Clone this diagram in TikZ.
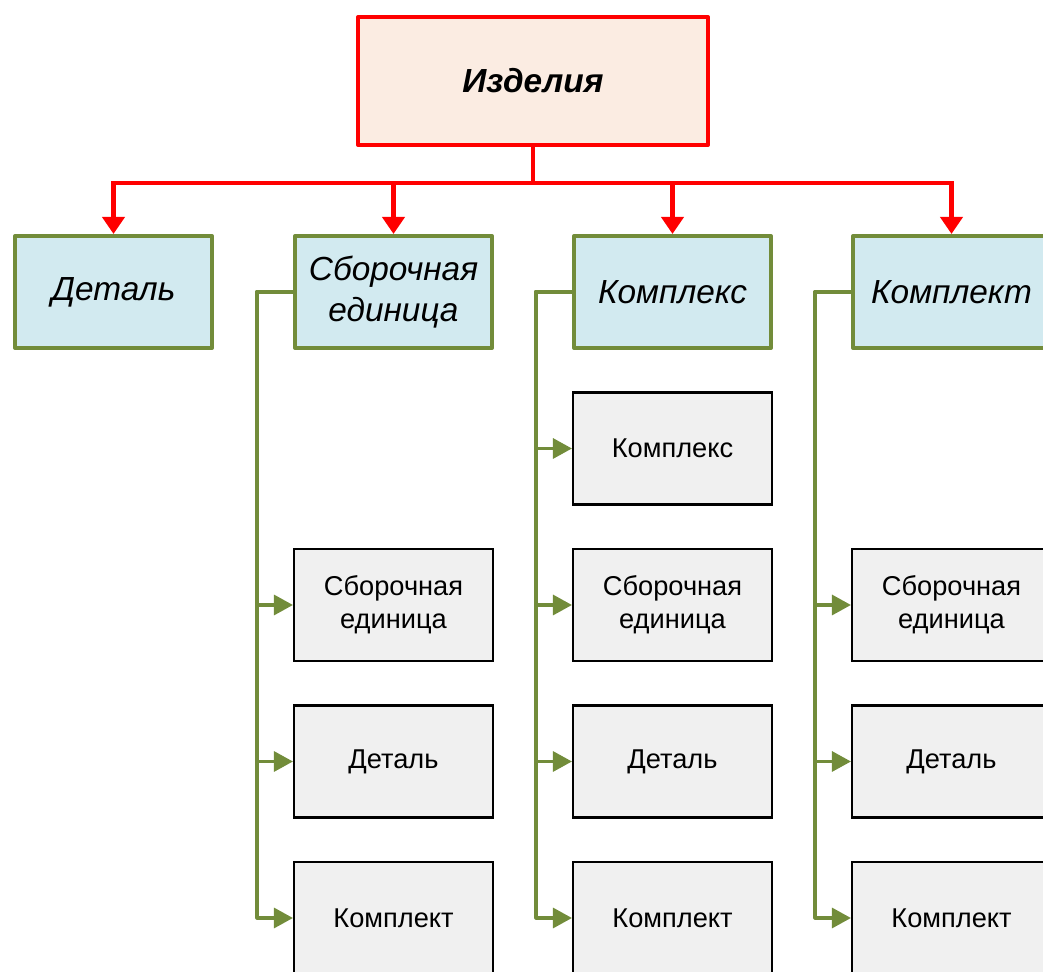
\documentclass[tikz,border=0pt]{standalone}
\usepackage{fontspec}
\setmainfont{Liberation Sans}
\usepackage{xcolor}
\usepackage{tikz}
\usetikzlibrary{arrows.meta, calc, positioning}

\definecolor{topfill}{RGB}{251,236,226}
\definecolor{catfill}{RGB}{210,234,240}
\definecolor{olive}{RGB}{114,140,58}
\definecolor{partfill}{RGB}{240,240,240}

\begin{document}
\begin{tikzpicture}[
    topbox/.style={draw=red, line width=2.3pt, fill=topfill, line join=round,
        minimum width=7cm, minimum height=2.56cm,
        font=\fontsize{19}{23}\selectfont\bfseries\itshape},
    catbox/.style={draw=olive, line width=2.3pt, fill=catfill, line join=round,
        minimum width=3.94cm, minimum height=2.24cm, align=center,
        font=\fontsize{19}{23}\selectfont\itshape},
    partbox/.style={draw=black, line width=1.2pt, fill=partfill,
        minimum width=3.98cm, minimum height=2.24cm, align=center,
        font=\fontsize{15.5}{19}\selectfont},
    redline/.style={draw=red, line width=2.3pt,
        -{Triangle[width=0.44cm, length=0.34cm]}},
    greenline/.style={draw=olive, line width=1.8pt, line join=round,
        -{Triangle[width=0.4cm, length=0.38cm]}}
]
    \clip (0,0) rectangle (20.86,-19.44);

    % 1. Верхний блок
    \node[topbox] (izd) at (10.66,-1.62) {Изделия};
    \coordinate (split) at ($(izd.south)+(0,-0.72)$);

    % 2. Виды изделий
    \node[catbox] (det) at (2.27,-5.84)  {Деталь};
    \node[catbox] (sb)  at (7.87,-5.84)  {Сборочная\\единица};
    \node[catbox] (kx)  at (13.45,-5.84) {Комплекс};
    \node[catbox] (kt)  at (19.03,-5.84) {Комплект};

    \draw[red, line width=2.3pt] (izd.south) -- (split);
    \foreach \c in {det,sb,kx,kt} {
        \draw[redline] (split) -| (\c.north);
    }

    % 3. Составные части
    \node[partbox] (sb1) at (7.87,-12.10) {Сборочная\\единица};
    \node[partbox] (sb2) at (7.87,-15.23) {Деталь};
    \node[partbox] (sb3) at (7.87,-18.36) {Комплект};

    \node[partbox] (kx0) at (13.45,-8.97)  {Комплекс};
    \node[partbox] (kx1) at (13.45,-12.10) {Сборочная\\единица};
    \node[partbox] (kx2) at (13.45,-15.23) {Деталь};
    \node[partbox] (kx3) at (13.45,-18.36) {Комплект};

    \node[partbox] (kt1) at (19.03,-12.10) {Сборочная\\единица};
    \node[partbox] (kt2) at (19.03,-15.23) {Деталь};
    \node[partbox] (kt3) at (19.03,-18.36) {Комплект};

    % 4. Связи
    \foreach \p in {sb,kx,kt} {
        \coordinate (\p bus) at ($(\p.west)+(-0.72,0)$);
    }
    \foreach \c in {sb1,sb2,sb3} {
        \draw[greenline] (sb.west) -- (sbbus) |- (\c.west);
    }
    \foreach \c in {kx0,kx1,kx2,kx3} {
        \draw[greenline] (kx.west) -- (kxbus) |- (\c.west);
    }
    \foreach \c in {kt1,kt2,kt3} {
        \draw[greenline] (kt.west) -- (ktbus) |- (\c.west);
    }
\end{tikzpicture}
\end{document}
